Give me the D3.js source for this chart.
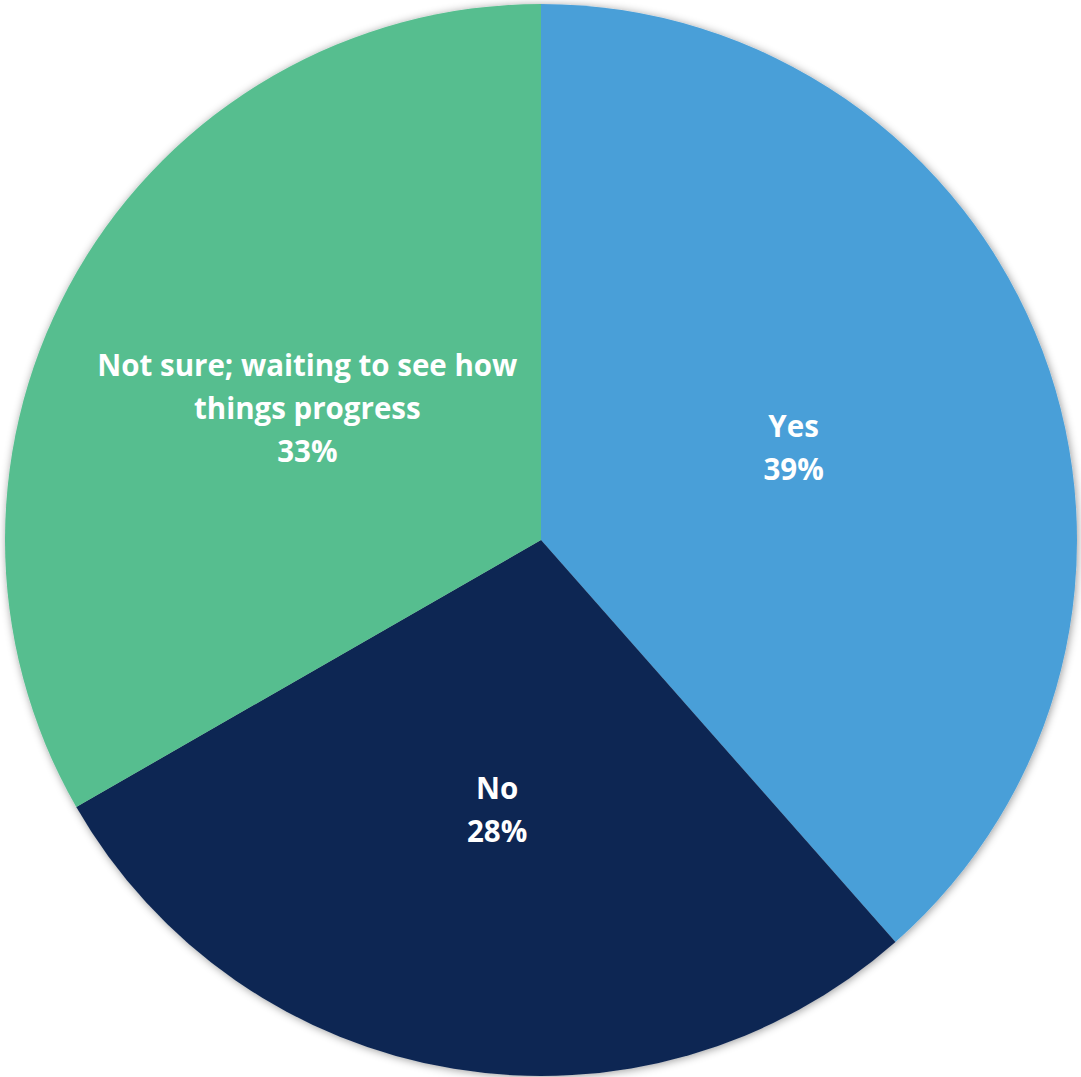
<!DOCTYPE html>
<html>
<head>
<meta charset="utf-8">
<script src="https://cdn.jsdelivr.net/npm/d3@7"></script>
<style>
  html, body { margin: 0; padding: 0; background: #fff; }
  svg { display: block; }
</style>
</head>
<body>
<svg id="chart" width="1081" height="1077"></svg>
<script>
// Slices go clockwise from 12 o'clock.
const categories = ['Yes', 'No', 'Not sure; waiting to see how things progress'];
const labelLines = [['Yes'], ['No'], ['Not sure; waiting to see how', 'things progress']];
const values = [38.5, 28.2, 33.3];
const percentLabels = ['39%', '28%', '33%'];
const colors = ['#4a9fd8', '#0f2752', '#57be8f'];

const width = 1081, height = 1077;
const cx = 541, cy = 540, radius = 536;

const svg = d3.select('#chart');

// soft grey halo round the pie
const defs = svg.append('defs');
defs.append('filter')
  .attr('id', 'shadow')
  .attr('x', '-5%').attr('y', '-5%')
  .attr('width', '110%').attr('height', '110%')
  .append('feDropShadow')
  .attr('dx', 1).attr('dy', 1)
  .attr('stdDeviation', 4)
  .attr('flood-color', '#000')
  .attr('flood-opacity', 0.4);

const g = svg.append('g').attr('transform', `translate(${cx},${cy})`);

const pie = d3.pie().sort(null).value(d => d);
const arcs = pie(values);

const arc = d3.arc().innerRadius(0).outerRadius(radius);
const labelArc = d3.arc().innerRadius(radius / 2 + 2).outerRadius(radius / 2 + 2);

g.append('g')
  .attr('filter', 'url(#shadow)')
  .selectAll('path')
  .data(arcs)
  .enter()
  .append('path')
  .attr('d', arc)
  .attr('fill', (d, i) => colors[i]);

const lineHeight = 43;
const labels = g.selectAll('.label')
  .data(arcs)
  .enter()
  .append('text')
  .attr('class', 'label')
  .attr('transform', d => {
    const [x, y] = labelArc.centroid(d);
    return `translate(${x},${y + 4})`;
  })
  .attr('text-anchor', 'middle')
  .attr('fill', '#fff')
  .style('font-family', '"Open Sans", sans-serif')
  .style('font-weight', 'bold')
  .style('font-size', '29.5px');

labels.each(function(d, i) {
  const lines = labelLines[i].concat([percentLabels[i]]);
  const offset = -(lines.length - 1) * lineHeight / 2;
  const t = d3.select(this);
  lines.forEach((line, j) => {
    t.append('tspan')
      .attr('x', 0)
      .attr('y', offset + j * lineHeight)
      .attr('dy', '0.35em')
      .text(line);
  });
});
</script>
</body>
</html>
